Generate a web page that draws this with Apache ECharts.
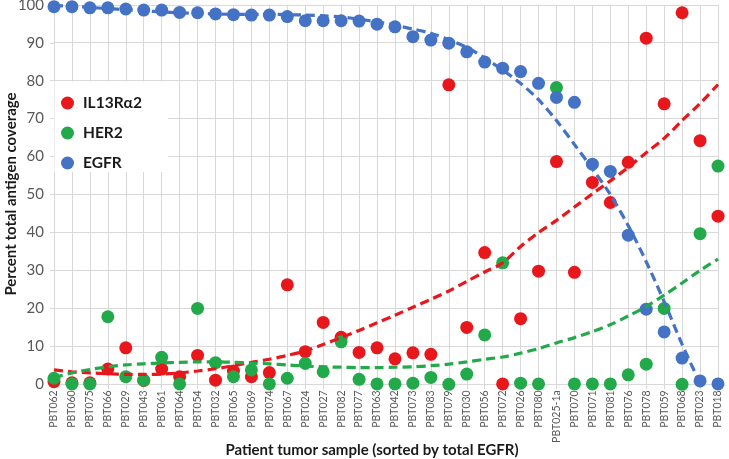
<!DOCTYPE html>
<html>
<head>
<meta charset="utf-8">
<script src="https://cdn.jsdelivr.net/npm/echarts@6/dist/echarts.min.js"></script>
<style>
html,body{margin:0;padding:0;background:#fff;}
#chart{width:729px;height:459px;}
</style>
</head>
<body>
<div id="chart"></div>
<script>
const categories = ["PBT062","PBT060","PBT075","PBT066","PBT029","PBT043","PBT061","PBT064","PBT054","PBT032","PBT065","PBT069","PBT074","PBT067","PBT024","PBT027","PBT082","PBT077","PBT063","PBT042","PBT073","PBT083","PBT079","PBT030","PBT056","PBT072","PBT026","PBT080","PBT025-1a","PBT070","PBT071","PBT081","PBT076","PBT078","PBT059","PBT068","PBT023","PBT018"];

const il13 = [0.7,0.4,0.4,4.0,9.6,1.0,4.0,2.0,7.6,1.1,3.5,2.0,3.1,26.2,8.6,16.3,12.4,8.4,9.6,6.7,8.3,7.9,78.9,15.0,34.7,0.1,17.3,29.8,58.7,29.5,53.2,47.9,58.5,91.2,73.9,97.9,64.2,44.3];
const her2 = [1.6,0.1,0.1,17.8,2.0,1.1,7.1,0.1,20.0,5.7,2.0,3.8,0.1,1.6,5.5,3.3,11.2,1.3,0.1,0.1,0.3,1.8,0.0,2.7,13.0,32.0,0.3,0.1,78.2,0.1,0.1,0.1,2.5,5.3,20.0,0.0,39.7,57.5];
const egfr = [99.5,99.5,99.2,99.2,98.9,98.6,98.6,98.0,97.9,97.6,97.4,97.3,97.3,96.9,95.8,95.8,95.8,95.7,94.9,94.2,91.6,90.7,89.9,87.6,84.9,83.3,82.4,79.3,75.6,74.3,58.0,56.1,39.3,19.8,13.8,6.9,0.9,0.1];

// dashed trend lines at each category
const il13Trend = [3.8,3.3,3.0,2.8,2.6,2.6,2.7,3.0,3.5,4.1,4.9,5.8,6.6,7.6,8.8,10.5,12.3,14.2,16.2,18.2,20.3,22.4,24.6,27.1,29.6,32.0,36.3,40.0,43.2,46.7,50.2,53.6,57.2,61.0,64.8,69.5,74.0,79.0];
const her2Trend = [1.8,3.0,3.9,4.6,5.1,5.4,5.6,5.8,5.9,5.9,5.8,5.6,5.4,5.1,4.8,4.6,4.5,4.4,4.4,4.5,4.6,4.9,5.3,5.9,6.6,7.2,8.2,9.4,10.9,12.3,13.9,15.7,18.0,20.5,23.5,26.7,30.0,33.0];
const egfrTrend = [99.8,99.6,99.3,99.0,98.7,98.4,98.1,97.9,97.7,97.6,97.5,97.5,97.5,97.4,97.3,97.1,96.8,96.2,95.5,94.6,93.6,92.5,90.8,88.8,86.0,82.8,79.3,75.0,69.5,63.2,56.8,50.0,41.8,32.3,21.8,10.5,0.3,null];

const yTicks = [0,10,20,30,40,50,60,70,80,90,100];

const RED = '#E8171C', GREEN = '#22A94A', BLUE = '#4472C4';
const GRID = '#D9D9D9';
const FONT = 'Lato, "Open Sans", sans-serif';

const chart = echarts.init(document.getElementById('chart'), null, {renderer: 'canvas'});

function scatter(name, data, color) {
  return {name, type: 'scatter', data, symbol: 'circle', symbolSize: 13,
    itemStyle: {color, opacity: 1}, z: 3, emphasis: {disabled: true}};
}
function trend(name, data, color) {
  return {name, type: 'line', data, smooth: 0.3, showSymbol: false, connectNulls: false,
    lineStyle: {color, width: 3.2, type: [9, 5]}, z: 4, emphasis: {disabled: true}, silent: true};
}

chart.setOption({
  animation: false,
  backgroundColor: '#fff',
  grid: {left: 54, right: 11, top: 4.8, bottom: 74.7, containLabel: false, outerBoundsMode: 'none'},
  xAxis: {
    type: 'category', data: categories, boundaryGap: false,
    axisLine: {show: true, lineStyle: {color: GRID, width: 1}},
    axisTick: {show: true, alignWithLabel: true, length: 5, lineStyle: {color: GRID}},
    splitLine: {show: true, lineStyle: {color: GRID, width: 1}},
    axisLabel: {interval: 0, rotate: 90, fontSize: 10.5, color: '#595959', fontFamily: FONT, margin: 6}
  },
  yAxis: {
    type: 'value', min: 0, max: 100, interval: 10,
    axisLine: {show: true, lineStyle: {color: GRID}},
    axisTick: {show: true, length: 4, lineStyle: {color: GRID}},
    splitLine: {show: true, lineStyle: {color: GRID, width: 1}},
    axisLabel: {fontSize: 15, color: '#595959', fontFamily: FONT, margin: 10,
      formatter: v => yTicks.includes(v) ? String(v) : ''}
  },
  legend: {
    orient: 'vertical', left: 54, top: 82, data: ['IL13Rα2', 'HER2', 'EGFR'],
    padding: [13, 22, 7, 7], itemGap: 14,
    itemWidth: 13, itemHeight: 13, icon: 'circle',
    textStyle: {fontSize: 15.5, fontWeight: 'bold', color: '#1a1a1a', fontFamily: FONT, padding: [0, 0, 0, 4]},
    selectedMode: false, z: 10
  },
  graphic: [{
    type: 'rect', z: 1, silent: true,
    shape: {x: 54.5, y: 81.5, width: 113.5, height: 90.5},
    style: {fill: '#fff'}
  }, {
    type: 'text', z: 10, silent: true,
    style: {text: 'Patient tumor sample (sorted by total EGFR)', x: 372, y: 450,
      align: 'center', verticalAlign: 'middle',
      font: 'bold 15px ' + FONT, fill: '#1a1a1a'}
  }, {
    type: 'text', z: 10, silent: true,
    x: 11, y: 194, rotation: Math.PI / 2,
    style: {text: 'Percent total antigen coverage', x: 0, y: 0,
      align: 'center', verticalAlign: 'middle',
      font: 'bold 15px ' + FONT, fill: '#1a1a1a'}
  }],
  series: [
    scatter('IL13Rα2', il13, RED),
    scatter('HER2', her2, GREEN),
    scatter('EGFR', egfr, BLUE),
    trend('IL13 trend', il13Trend, RED),
    trend('HER2 trend', her2Trend, GREEN),
    trend('EGFR trend', egfrTrend, BLUE)
  ]
});
</script>
</body>
</html>
